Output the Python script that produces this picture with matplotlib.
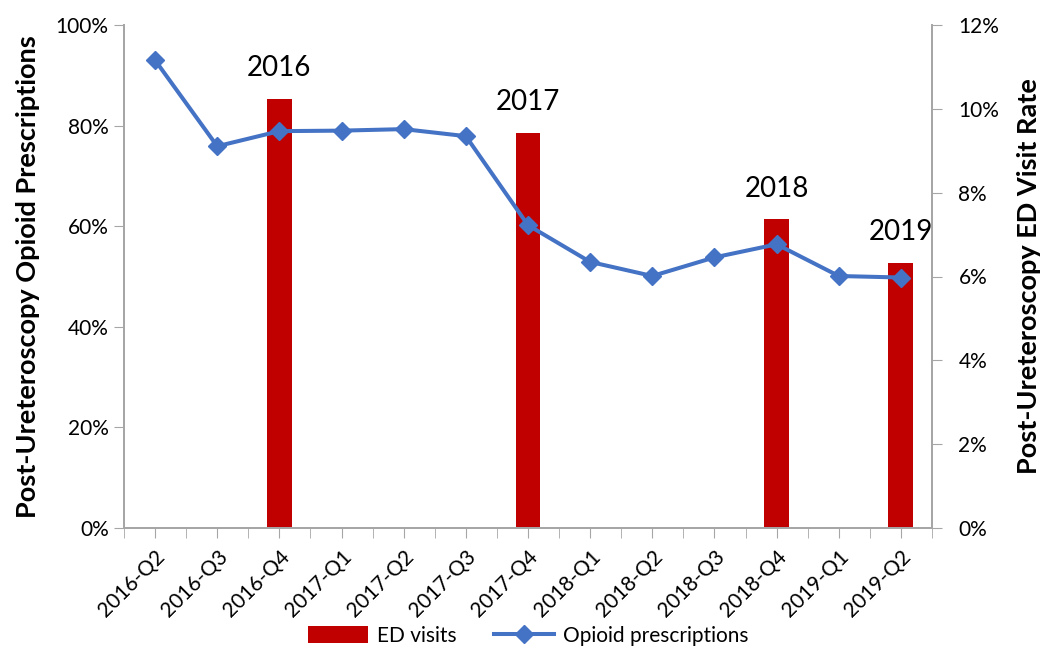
import matplotlib
matplotlib.use("Agg")
import matplotlib.pyplot as plt
from matplotlib.ticker import FuncFormatter, MultipleLocator
import numpy as np

plt.rcParams['font.family'] = ['Lato', 'DejaVu Sans']

quarters = ["2016-Q2", "2016-Q3", "2016-Q4", "2017-Q1", "2017-Q2", "2017-Q3", "2017-Q4",
            "2018-Q1", "2018-Q2", "2018-Q3", "2018-Q4", "2019-Q1", "2019-Q2"]
opioid_pct = [93.0, 75.9, 78.9, 79.0, 79.3, 77.9, 60.2, 52.9, 50.1, 53.8, 56.4, 50.1, 49.8]
ed_quarters = ["2016-Q4", "2017-Q4", "2018-Q4", "2019-Q2"]
ed_rate = [10.24, 9.43, 7.36, 6.33]
ed_labels = ["2016", "2017", "2018", "2019"]

line_color = "#4472C4"
bar_color = "#C00000"
spine_color = "#A6A6A6"

fig = plt.figure(figsize=(10.5, 6.59), dpi=100)
ax = fig.add_axes([124/1050, 1-528/659, (932-124)/1050, (528-25)/659])
ax2 = ax.twinx()

x = np.arange(len(quarters))
xb = [quarters.index(q) for q in ed_quarters]

bars = ax2.bar(xb, ed_rate, width=0.4, color=bar_color, label="ED visits", zorder=1)
for xi, v, lab in zip(xb, ed_rate, ed_labels):
    ax2.annotate(lab, (xi, v), xytext=(0, 22), textcoords="offset points",
                 ha="center", va="center", fontsize=20, color="black")

ax.set_zorder(ax2.get_zorder() + 1)
ax.patch.set_visible(False)
line, = ax.plot(x, opioid_pct, color=line_color, lw=2.9, marker="D", ms=9,
                label="Opioid prescriptions", zorder=3)

ax.set_xlim(-0.5, len(quarters) - 0.5)
ax.set_ylim(0, 100)
ax2.set_ylim(0, 12)
ax.yaxis.set_major_locator(MultipleLocator(20))
ax2.yaxis.set_major_locator(MultipleLocator(2))
ax.yaxis.set_major_formatter(FuncFormatter(lambda v, p: f"{v:.0f}%"))
ax2.yaxis.set_major_formatter(FuncFormatter(lambda v, p: f"{v:.0f}%"))

ax.set_xticks(x)
ax.set_xticklabels(quarters, rotation=45, ha="right", rotation_mode="anchor", fontsize=15)
ax.set_xticks(np.arange(-0.5, len(quarters), 1), minor=True)
ax.tick_params(axis="x", which="both", length=7, color=spine_color, direction="out", pad=6)
ax.tick_params(axis="y", length=7, color=spine_color, labelsize=15, pad=4)
ax2.tick_params(axis="y", length=7, color=spine_color, labelsize=15, pad=12)

for a in (ax, ax2):
    a.spines["top"].set_visible(False)
    for s in ("left", "right", "bottom"):
        a.spines[s].set_color(spine_color)
        a.spines[s].set_linewidth(1.3)

ax.set_ylabel("Post-Ureteroscopy Opioid Prescriptions", fontsize=19.5, fontweight="bold", labelpad=11)
ax2.set_ylabel("Post-Ureteroscopy ED Visit Rate", fontsize=19.5, fontweight="bold", labelpad=13)

fig.legend([bars, line], ["ED visits", "Opioid prescriptions"], loc="center",
           bbox_to_anchor=(528/1050, 1-636/659), ncol=2, frameon=False, fontsize=15,
           handlelength=2.9, handleheight=0.9, columnspacing=1.8, handletextpad=0.4)

fig.savefig("out.png", dpi=100)
